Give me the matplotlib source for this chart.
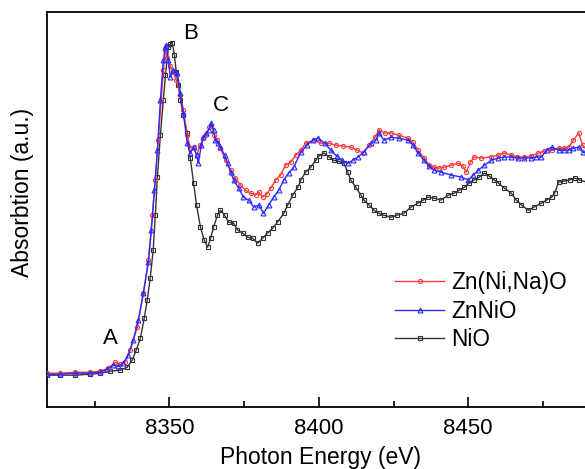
import matplotlib
matplotlib.use("Agg")
import matplotlib.pyplot as plt

plt.rcParams['font.family'] = ['Liberation Sans', 'DejaVu Sans']

# ---------------- data ----------------
e_znnao = [8309.1, 8313.4, 8318.5, 8323.5, 8326.8, 8329.5, 8331.9, 8333.6, 8335.2, 8336.9,
           8339.3, 8341.3, 8343.0, 8344.3, 8345.3, 8346.3, 8347.3, 8348.0, 8348.7, 8349.3,
           8350.3, 8351.3, 8352.3, 8353.7, 8354.7, 8356.0, 8357.0, 8358.1, 8359.1, 8360.4,
           8361.4, 8362.4, 8363.4, 8364.1, 8365.1, 8366.1, 8367.1, 8368.8, 8370.5, 8372.1,
           8373.8, 8375.5, 8377.2, 8378.9, 8379.9, 8381.2, 8382.6, 8383.9, 8385.6, 8387.2,
           8388.9, 8390.6, 8392.3, 8394.0, 8395.6, 8398.3, 8400.7, 8403.4, 8405.7, 8408.1,
           8410.7, 8412.8, 8414.8, 8416.8, 8418.8, 8420.1, 8422.1, 8424.2, 8426.8, 8429.9,
           8431.5, 8433.2, 8435.2, 8436.9, 8438.6, 8440.3, 8441.9, 8444.3, 8446.6, 8448.3,
           8449.3, 8450.7, 8452.0, 8454.4, 8457.7, 8460.1, 8462.1, 8464.4, 8466.4, 8468.8,
           8471.1, 8473.5, 8475.5, 8477.9, 8480.2, 8482.2, 8483.6, 8485.2, 8486.9, 8488.3,
           8489.6]
a_znnao = [0.003, 0.003, 0.006, 0.006, 0.009, 0.018, 0.036, 0.030, 0.036, 0.073,
           0.143, 0.246, 0.347, 0.483, 0.590, 0.711, 0.833, 0.924, 0.985, 0.960,
           0.936, 0.918, 0.894, 0.848, 0.802, 0.726, 0.687, 0.690, 0.666, 0.696,
           0.717, 0.726, 0.751, 0.757, 0.726, 0.711, 0.687, 0.650, 0.620, 0.596,
           0.574, 0.559, 0.550, 0.544, 0.553, 0.538, 0.547, 0.565, 0.590, 0.605,
           0.635, 0.644, 0.666, 0.681, 0.702, 0.711, 0.702, 0.702, 0.696, 0.693,
           0.690, 0.681, 0.672, 0.696, 0.720, 0.742, 0.733, 0.733, 0.726, 0.717,
           0.705, 0.681, 0.657, 0.635, 0.629, 0.626, 0.629, 0.635, 0.641, 0.632,
           0.614, 0.644, 0.660, 0.657, 0.660, 0.666, 0.672, 0.666, 0.660, 0.660,
           0.663, 0.672, 0.678, 0.681, 0.687, 0.687, 0.690, 0.711, 0.733, 0.696,
           0.681]

e_znnio = [8309.1, 8313.4, 8318.5, 8323.5, 8326.8, 8329.2, 8331.2, 8332.9, 8334.6, 8336.2,
           8337.9, 8339.6, 8341.3, 8343.0, 8344.0, 8345.0, 8346.0, 8347.0, 8348.0, 8348.7,
           8349.0, 8349.7, 8350.3, 8351.3, 8352.7, 8353.7, 8354.7, 8356.0, 8357.0, 8358.1,
           8359.1, 8359.7, 8360.7, 8361.4, 8362.4, 8363.1, 8364.1, 8364.8, 8365.4, 8366.4,
           8367.1, 8368.5, 8369.5, 8370.5, 8371.5, 8373.2, 8374.8, 8376.5, 8378.2, 8379.9,
           8381.5, 8383.2, 8384.9, 8386.6, 8388.3, 8389.9, 8391.6, 8394.0, 8396.0, 8398.0,
           8399.7, 8402.0, 8404.0, 8406.0, 8407.7, 8409.7, 8411.4, 8413.1, 8415.1, 8417.4,
           8419.1, 8420.1, 8421.8, 8424.2, 8426.8, 8429.9, 8431.5, 8433.2, 8435.2, 8436.9,
           8438.6, 8440.9, 8444.3, 8447.7, 8450.0, 8451.7, 8453.4, 8455.4, 8457.7, 8460.1,
           8462.1, 8464.4, 8466.8, 8468.8, 8471.1, 8472.8, 8474.5, 8476.2, 8477.9, 8480.2,
           8482.2, 8483.6, 8485.2, 8486.9, 8488.3, 8489.6]
a_znnio = [0.000, 0.000, 0.003, 0.003, 0.006, 0.015, 0.027, 0.024, 0.033, 0.058,
           0.103, 0.164, 0.246, 0.340, 0.438, 0.559, 0.681, 0.833, 0.954, 0.994,
           1.000, 0.954, 0.903, 0.924, 0.915, 0.854, 0.793, 0.702, 0.672, 0.690,
           0.666, 0.641, 0.696, 0.720, 0.733, 0.742, 0.763, 0.742, 0.711, 0.702,
           0.690, 0.666, 0.641, 0.614, 0.590, 0.565, 0.538, 0.529, 0.508, 0.514,
           0.489, 0.514, 0.538, 0.559, 0.590, 0.611, 0.629, 0.675, 0.696, 0.711,
           0.717, 0.702, 0.681, 0.663, 0.650, 0.641, 0.650, 0.660, 0.675, 0.702,
           0.711, 0.733, 0.711, 0.720, 0.717, 0.711, 0.696, 0.672, 0.650, 0.632,
           0.620, 0.614, 0.605, 0.599, 0.590, 0.605, 0.620, 0.635, 0.650, 0.657,
           0.660, 0.660, 0.657, 0.657, 0.657, 0.660, 0.660, 0.681, 0.690, 0.681,
           0.681, 0.681, 0.687, 0.690, 0.675, 0.672]

e_nio = [8309.1, 8313.4, 8318.5, 8323.5, 8326.8, 8330.1, 8333.6, 8335.9, 8337.6, 8338.9,
         8340.3, 8341.6, 8342.6, 8343.6, 8344.6, 8345.3, 8346.0, 8347.0, 8348.0, 8348.7,
         8349.7, 8350.3, 8351.0, 8351.7, 8352.3, 8353.0, 8353.7, 8354.7, 8356.0, 8357.0,
         8358.1, 8359.1, 8360.4, 8361.7, 8362.8, 8363.8, 8364.8, 8366.1, 8367.1, 8368.5,
         8369.8, 8371.5, 8372.8, 8374.5, 8376.2, 8377.9, 8379.5, 8381.2, 8382.9, 8384.6,
         8386.2, 8388.3, 8389.6, 8391.3, 8393.0, 8394.0, 8395.6, 8397.3, 8399.0, 8400.0,
         8401.7, 8403.4, 8405.0, 8406.7, 8408.4, 8409.7, 8410.7, 8412.4, 8414.1, 8415.1,
         8416.8, 8418.5, 8420.1, 8421.8, 8424.2, 8426.2, 8428.5, 8430.9, 8433.2, 8434.9,
         8436.6, 8438.6, 8440.9, 8443.3, 8445.3, 8447.0, 8448.7, 8450.3, 8452.0, 8453.7,
         8455.4, 8457.0, 8458.7, 8460.1, 8462.1, 8464.4, 8466.1, 8467.8, 8470.1, 8472.1,
         8474.5, 8476.2, 8477.9, 8478.9, 8480.2, 8482.2, 8483.9, 8485.6, 8487.2, 8489.6]
a_nio = [-0.003, -0.003, -0.003, 0.000, 0.003, 0.009, 0.012, 0.021, 0.043, 0.073,
         0.109, 0.170, 0.225, 0.292, 0.377, 0.483, 0.599, 0.726, 0.833, 0.909,
         0.994, 1.003, 1.006, 0.970, 0.918, 0.878, 0.833, 0.787, 0.733, 0.657,
         0.581, 0.514, 0.447, 0.407, 0.386, 0.413, 0.447, 0.483, 0.498, 0.483,
         0.462, 0.459, 0.438, 0.429, 0.416, 0.413, 0.398, 0.413, 0.429, 0.444,
         0.462, 0.489, 0.514, 0.544, 0.568, 0.590, 0.614, 0.629, 0.650, 0.663,
         0.672, 0.660, 0.650, 0.647, 0.641, 0.614, 0.590, 0.568, 0.544, 0.529,
         0.514, 0.498, 0.489, 0.483, 0.477, 0.483, 0.489, 0.508, 0.520, 0.529,
         0.538, 0.535, 0.529, 0.544, 0.550, 0.559, 0.568, 0.581, 0.590, 0.599,
         0.611, 0.602, 0.590, 0.581, 0.565, 0.550, 0.529, 0.514, 0.498, 0.508,
         0.520, 0.529, 0.538, 0.550, 0.584, 0.587, 0.590, 0.596, 0.590, 0.584]

labels = ["Zn(Ni,Na)O", "ZnNiO", "NiO"]
peak_labels = ["A", "B", "C"]
peak_pos = [(8330.2, 0.109), (8357.0, 1.036), (8367.1, 0.815)]
xticks = [8350, 8400, 8450]

# ---------------- figure ----------------
fig = plt.figure(figsize=(5.85, 4.69), dpi=100)
ax = fig.add_axes([0.080, 0.132, 0.935, 0.842])

l3, = ax.plot(e_nio, a_nio, color='#333333', lw=1.0, marker='s', ms=2.5,
              mfc='none', mew=0.8, zorder=2, label=labels[2])
l1, = ax.plot(e_znnao, a_znnao, color='#ff3b3b', lw=1.0, marker='o', ms=3,
              mfc='none', mew=0.8, zorder=3, label=labels[0])
l2, = ax.plot(e_znnio, a_znnio, color='#2b2bff', lw=1.0, marker='^', ms=3.5,
              mfc='none', mew=0.8, zorder=4, label=labels[1])

ax.set_xlim(8309, 8492)
ax.set_ylim(-0.1, 1.1)
ax.set_xticks(xticks)
ax.set_xticks([8325, 8375, 8425, 8475], minor=True)
ax.set_yticks([])
ax.tick_params(axis='x', which='major', direction='in', length=7, width=1.2,
               labelsize=16, pad=8)
ax.tick_params(axis='x', which='minor', direction='in', length=4, width=1.2)
for s in ax.spines.values():
    s.set_linewidth(1.3)

ax.set_xlabel("Photon Energy (eV)", fontsize=16.5, labelpad=5)
ax.set_ylabel("Absorbtion (a.u.)", fontsize=16.5)
ax.yaxis.set_label_coords(-0.0243, 0.544)

for t, (x, y) in zip(peak_labels, peak_pos):
    ax.text(x, y, t, fontsize=16, ha='center', va='center')

leg = ax.legend(handles=[l1, l2, l3], loc='upper left',
                bbox_to_anchor=(0.636, 0.344), frameon=False, fontsize=16.3,
                handlelength=2.2, handletextpad=0.3, labelspacing=0.24,
                numpoints=1, borderaxespad=0, borderpad=0)

fig.savefig("out.png", dpi=100)
